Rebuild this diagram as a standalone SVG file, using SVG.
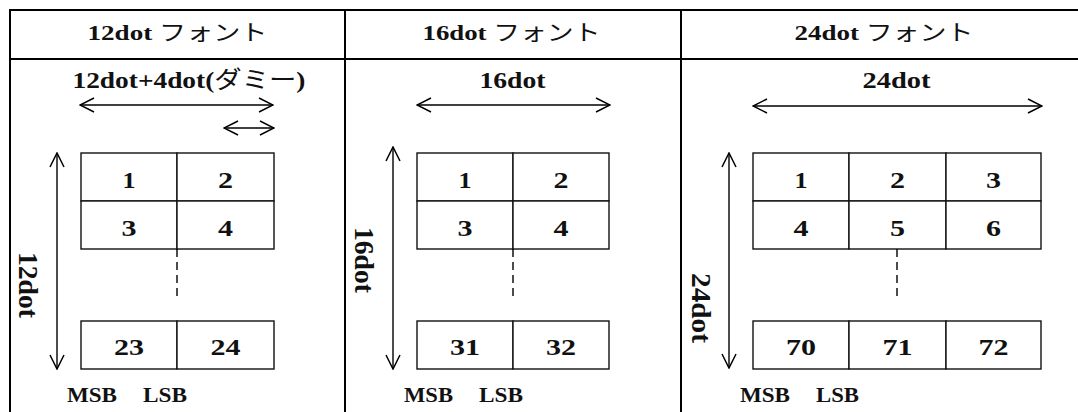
<svg xmlns="http://www.w3.org/2000/svg" width="1078" height="412" viewBox="0 0 1078 412">
  <style>
    .frame { stroke: #000; stroke-width: 2; fill: none; }
    .cell { stroke: #111; stroke-width: 1.4; fill: #fff; }
    .conn { stroke: #000; stroke-width: 1.4; fill: none; }
    .dash { stroke: #000; stroke-width: 1.4; stroke-dasharray: 8 5; fill: none; }
    text { font-family: "Liberation Serif", "Noto Sans CJK JP", serif; font-weight: bold; fill: #111; }
    .kana { font-family: "Noto Sans CJK JP", sans-serif; font-weight: normal; }
    .hdr { font-size: 22px; text-anchor: middle; }
    .dim { font-size: 24px; text-anchor: middle; }
    .num { font-size: 24px; text-anchor: middle; }
    .bit { font-size: 21px; }
    .side { font-size: 27px; }
  </style>
  <defs>
    <marker id="head" viewBox="0 0 16 16" refX="15" refY="8" markerWidth="16" markerHeight="16" markerUnits="userSpaceOnUse" orient="auto-start-reverse">
      <path d="M1,1 L15,8 L1,15" fill="none" stroke="#000" stroke-width="1.5"/>
    </marker>
  </defs>
  <rect width="1078" height="412" fill="#fff"/>

  <!-- table frame -->
  <g id="table">
    <line class="frame" x1="9" y1="10" x2="1078" y2="10"/>
    <line class="frame" x1="9" y1="59" x2="1078" y2="59"/>
    <line class="frame" x1="10" y1="9" x2="10" y2="412"/>
    <line class="frame" x1="345" y1="9" x2="345" y2="412"/>
    <line class="frame" x1="681" y1="9" x2="681" y2="412"/>
  </g>

  <!-- column headers -->
  <g id="header-12">
    <text class="hdr" x="177.5" y="40" textLength="180" lengthAdjust="spacingAndGlyphs">12dot <tspan class="kana">フォント</tspan></text>
  </g>
  <g id="header-16">
    <text class="hdr" x="511.5" y="40" textLength="178" lengthAdjust="spacingAndGlyphs">16dot <tspan class="kana">フォント</tspan></text>
  </g>
  <g id="header-24">
    <text class="hdr" x="884" y="40" textLength="179" lengthAdjust="spacingAndGlyphs">24dot <tspan class="kana">フォント</tspan></text>
  </g>

  <!-- 12dot font -->
  <g id="font-12">
    <text class="dim" x="189" y="88" textLength="233" lengthAdjust="spacingAndGlyphs">12dot+4dot(<tspan class="kana">ダミー</tspan>)</text>
    <text class="side" transform="translate(19,252) rotate(90)" textLength="66" lengthAdjust="spacingAndGlyphs">12dot</text>
    <g id="grid-12">
      <rect class="cell" x="81" y="153" width="96" height="48"/>
      <rect class="cell" x="177" y="153" width="97" height="48"/>
      <rect class="cell" x="81" y="201" width="96" height="48"/>
      <rect class="cell" x="177" y="201" width="97" height="48"/>
      <rect class="cell" x="81" y="321" width="96" height="48"/>
      <rect class="cell" x="177" y="321" width="97" height="48"/>
      <text class="num" x="129" y="188" textLength="13" lengthAdjust="spacingAndGlyphs">1</text>
      <text class="num" x="225.5" y="188" textLength="15" lengthAdjust="spacingAndGlyphs">2</text>
      <text class="num" x="129" y="236" textLength="15" lengthAdjust="spacingAndGlyphs">3</text>
      <text class="num" x="225.5" y="236" textLength="15" lengthAdjust="spacingAndGlyphs">4</text>
      <text class="num" x="129" y="355" textLength="30" lengthAdjust="spacingAndGlyphs">23</text>
      <text class="num" x="225.5" y="355" textLength="30" lengthAdjust="spacingAndGlyphs">24</text>
    </g>
    <text class="bit" x="67" y="402" textLength="50" lengthAdjust="spacingAndGlyphs">MSB</text>
    <text class="bit" x="143" y="402" textLength="44" lengthAdjust="spacingAndGlyphs">LSB</text>
  </g>

  <!-- 16dot font -->
  <g id="font-16">
    <text class="dim" x="512.5" y="88" textLength="66" lengthAdjust="spacingAndGlyphs">16dot</text>
    <text class="side" transform="translate(355,227) rotate(90)" textLength="66" lengthAdjust="spacingAndGlyphs">16dot</text>
    <g id="grid-16">
      <rect class="cell" x="417" y="153" width="96" height="48"/>
      <rect class="cell" x="513" y="153" width="96" height="48"/>
      <rect class="cell" x="417" y="201" width="96" height="48"/>
      <rect class="cell" x="513" y="201" width="96" height="48"/>
      <rect class="cell" x="417" y="321" width="96" height="48"/>
      <rect class="cell" x="513" y="321" width="96" height="48"/>
      <text class="num" x="465" y="188" textLength="13" lengthAdjust="spacingAndGlyphs">1</text>
      <text class="num" x="561" y="188" textLength="15" lengthAdjust="spacingAndGlyphs">2</text>
      <text class="num" x="465" y="236" textLength="15" lengthAdjust="spacingAndGlyphs">3</text>
      <text class="num" x="561" y="236" textLength="15" lengthAdjust="spacingAndGlyphs">4</text>
      <text class="num" x="465" y="355" textLength="30" lengthAdjust="spacingAndGlyphs">31</text>
      <text class="num" x="561" y="355" textLength="30" lengthAdjust="spacingAndGlyphs">32</text>
    </g>
    <text class="bit" x="404" y="402" textLength="49" lengthAdjust="spacingAndGlyphs">MSB</text>
    <text class="bit" x="479" y="402" textLength="44" lengthAdjust="spacingAndGlyphs">LSB</text>
  </g>

  <!-- 24dot font -->
  <g id="font-24">
    <text class="dim" x="896.5" y="88" textLength="68" lengthAdjust="spacingAndGlyphs">24dot</text>
    <text class="side" transform="translate(692,273) rotate(90)" textLength="70" lengthAdjust="spacingAndGlyphs">24dot</text>
    <g id="grid-24">
      <rect class="cell" x="753" y="153" width="96" height="48"/>
      <rect class="cell" x="849" y="153" width="97" height="48"/>
      <rect class="cell" x="946" y="153" width="95" height="48"/>
      <rect class="cell" x="753" y="201" width="96" height="48"/>
      <rect class="cell" x="849" y="201" width="97" height="48"/>
      <rect class="cell" x="946" y="201" width="95" height="48"/>
      <rect class="cell" x="753" y="321" width="96" height="48"/>
      <rect class="cell" x="849" y="321" width="97" height="48"/>
      <rect class="cell" x="946" y="321" width="95" height="48"/>
      <text class="num" x="801" y="188" textLength="13" lengthAdjust="spacingAndGlyphs">1</text>
      <text class="num" x="897.5" y="188" textLength="15" lengthAdjust="spacingAndGlyphs">2</text>
      <text class="num" x="993.5" y="188" textLength="15" lengthAdjust="spacingAndGlyphs">3</text>
      <text class="num" x="801" y="236" textLength="15" lengthAdjust="spacingAndGlyphs">4</text>
      <text class="num" x="897.5" y="236" textLength="15" lengthAdjust="spacingAndGlyphs">5</text>
      <text class="num" x="993.5" y="236" textLength="15" lengthAdjust="spacingAndGlyphs">6</text>
      <text class="num" x="801" y="355" textLength="30" lengthAdjust="spacingAndGlyphs">70</text>
      <text class="num" x="897.5" y="355" textLength="30" lengthAdjust="spacingAndGlyphs">71</text>
      <text class="num" x="993.5" y="355" textLength="30" lengthAdjust="spacingAndGlyphs">72</text>
    </g>
    <text class="bit" x="740" y="402" textLength="50" lengthAdjust="spacingAndGlyphs">MSB</text>
    <text class="bit" x="816" y="402" textLength="43" lengthAdjust="spacingAndGlyphs">LSB</text>
  </g>

  <!-- dimension arrows and continuation marks -->
  <g id="connectors">
    <line class="conn" x1="80" y1="105" x2="273" y2="105" marker-start="url(#head)" marker-end="url(#head)"/>
    <line class="conn" x1="224" y1="128" x2="274" y2="128" marker-start="url(#head)" marker-end="url(#head)"/>
    <line class="conn" x1="57" y1="153" x2="57" y2="369" marker-start="url(#head)" marker-end="url(#head)"/>
    <line class="dash" x1="177" y1="249" x2="177" y2="298"/>

    <line class="conn" x1="417" y1="105" x2="610" y2="105" marker-start="url(#head)" marker-end="url(#head)"/>
    <line class="conn" x1="393" y1="147" x2="393" y2="369" marker-start="url(#head)" marker-end="url(#head)"/>
    <line class="dash" x1="513" y1="249" x2="513" y2="298"/>

    <line class="conn" x1="753" y1="106" x2="1042" y2="106" marker-start="url(#head)" marker-end="url(#head)"/>
    <line class="conn" x1="729" y1="153" x2="729" y2="368" marker-start="url(#head)" marker-end="url(#head)"/>
    <line class="dash" x1="897" y1="249" x2="897" y2="298"/>
  </g>
</svg>
